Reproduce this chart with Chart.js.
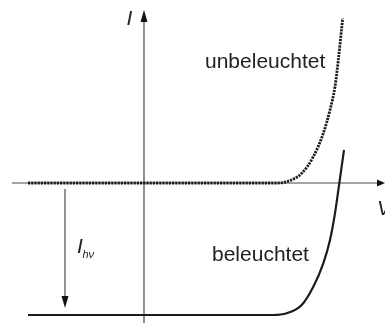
<!DOCTYPE html>
<html>
<head>
<meta charset="utf-8">
<script src="https://cdn.jsdelivr.net/npm/chart.js@4/dist/chart.umd.min.js"></script>
<style>
  html, body { margin: 0; padding: 0; background: #fff; }
  #wrap { position: relative; width: 385px; height: 323px; }
</style>
</head>
<body>
<div id="wrap"><canvas id="iv"></canvas></div>
<script>
// Kennlinie der Solarzelle, dunkel und beleuchtet (willkürliche Einheiten)
const darkVoltage = [-11.6, 13.4, 14.27, 15.77, 16.93, 17.93, 18.6, 19.1, 19.43, 19.87];
const darkCurrent = [0, 0, 0.13, 0.97, 2.63, 4.97, 7.3, 9.63, 12.3, 16.47];
const litVoltage = [-11.6, 12.93, 14.27, 15.77, 16.93, 17.93, 18.6, 19.1, 19.53, 20.0];
const litCurrent = [-13.2, -13.2, -13.03, -12.2, -10.37, -8.03, -5.7, -3.03, -0.03, 3.3];

const toPoints = (xs, ys) => xs.map((x, i) => ({ x: x, y: ys[i] }));

const ink = '#1c1c1c';
const axisColor = '#4a4a4a';
const font = '"Liberation Sans", Arial, Helvetica, sans-serif';

function arrowHead(ctx, x, y, dir, len, half) {
  ctx.beginPath();
  if (dir === 'up') {
    ctx.moveTo(x, y); ctx.lineTo(x - half, y + len); ctx.lineTo(x + half, y + len);
  } else if (dir === 'down') {
    ctx.moveTo(x, y); ctx.lineTo(x - half, y - len); ctx.lineTo(x + half, y - len);
  } else {
    ctx.moveTo(x, y); ctx.lineTo(x - len, y - half); ctx.lineTo(x - len, y + half);
  }
  ctx.closePath();
  ctx.fill();
}

// Achsen, Pfeile und Beschriftung
const axesPlugin = {
  id: 'axes',
  beforeDatasetsDraw(chart) {
    const { ctx, scales: { x, y } } = chart;
    const x0 = x.getPixelForValue(0);
    const y0 = y.getPixelForValue(0);
    ctx.save();
    ctx.strokeStyle = axisColor;
    ctx.fillStyle = '#111';
    ctx.lineWidth = 1.2;
    // V-Achse
    const xl = x.getPixelForValue(-13.2), xr = x.getPixelForValue(24.1);
    ctx.beginPath(); ctx.moveTo(xl, y0); ctx.lineTo(xr - 6, y0); ctx.stroke();
    arrowHead(ctx, xr, y0, 'right', 8, 3.5);
    // I-Achse
    const yt = y.getPixelForValue(17.3), yb = y.getPixelForValue(-14.0);
    ctx.beginPath(); ctx.moveTo(x0, yb); ctx.lineTo(x0, yt + 6); ctx.stroke();
    arrowHead(ctx, x0, yt, 'up', 12, 3.5);
    // Photostrom-Pfeil
    const xa = x.getPixelForValue(-7.9);
    const ya = y.getPixelForValue(-0.6), yz = y.getPixelForValue(-12.5);
    ctx.beginPath(); ctx.moveTo(xa, ya); ctx.lineTo(xa, yz - 8); ctx.stroke();
    arrowHead(ctx, xa, yz, 'down', 12, 3.5);
    ctx.restore();
  },
  afterDatasetsDraw(chart) {
    const { ctx, scales: { x, y } } = chart;
    ctx.save();
    ctx.fillStyle = '#222';
    ctx.textBaseline = 'alphabetic';
    ctx.textAlign = 'left';
    ctx.font = '21px ' + font;
    ctx.fillText('unbeleuchtet', x.getPixelForValue(6.1), y.getPixelForValue(11.5));
    ctx.fillText('beleuchtet', x.getPixelForValue(6.8), y.getPixelForValue(-7.8));
    ctx.font = 'italic 21px ' + font;
    ctx.fillText('I', x.getPixelForValue(-1.75), y.getPixelForValue(15.8));
    ctx.fillText('V', x.getPixelForValue(23.3), y.getPixelForValue(-3.2));
    ctx.fillText('I', x.getPixelForValue(-6.7), y.getPixelForValue(-7.0));
    ctx.font = 'italic 11px ' + font;
    ctx.fillText('hν', x.getPixelForValue(-6.15), y.getPixelForValue(-7.5));
    ctx.restore();
  }
};

new Chart(document.getElementById('iv'), {
  type: 'scatter',
  data: {
    datasets: [
      {
        label: 'unbeleuchtet',
        data: toPoints(darkVoltage, darkCurrent),
        showLine: true,
        borderColor: ink,
        borderWidth: 2.8,
        borderDash: [2.2, 1],
        pointRadius: 0,
        cubicInterpolationMode: 'monotone'
      },
      {
        label: 'beleuchtet',
        data: toPoints(litVoltage, litCurrent),
        showLine: true,
        borderColor: ink,
        borderWidth: 2.2,
        pointRadius: 0,
        cubicInterpolationMode: 'monotone'
      }
    ]
  },
  options: {
    responsive: true,
    maintainAspectRatio: false,
    animation: false,
    layout: { padding: 0 },
    plugins: {
      legend: { display: false },
      tooltip: { enabled: false }
    },
    scales: {
      x: { type: 'linear', display: false, min: -14.4, max: 24.1 },
      y: { type: 'linear', display: false, min: -14.0, max: 18.3 }
    }
  },
  plugins: [axesPlugin]
});
</script>
</body>
</html>
